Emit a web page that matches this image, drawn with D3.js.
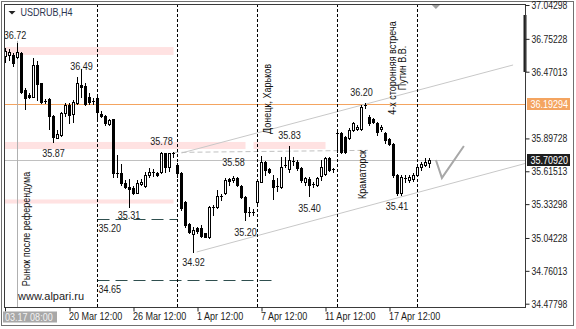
<!DOCTYPE html>
<html>
<head>
<meta charset="utf-8">
<script src="https://cdn.jsdelivr.net/npm/d3@7"></script>
<style>
  body { margin: 0; background: #fff; }
  svg { display: block; font-family: "Liberation Sans", Arial, sans-serif; }
</style>
</head>
<body>
<svg id="chart" width="576" height="329"></svg>
<script>
// USDRUB H4 bars
const opens = [36.601,36.614,36.614,36.597,36.631,36.309,36.266,36.257,36.528,36.373,36.219,36.232,36.090,35.903,35.927,36.118,36.184,36.107,36.204,36.356,36.347,36.250,36.221,36.242,36.107,36.090,36.021,36.062,35.598,35.603,35.517,35.483,35.469,35.431,35.506,35.491,35.583,35.600,35.603,35.611,35.770,35.654,35.770,35.669,35.603,35.354,35.162,35.077,35.125,35.125,35.083,35.048,35.311,35.311,35.403,35.426,35.547,35.540,35.555,35.489,35.392,35.268,35.268,35.354,35.526,35.697,35.632,35.540,35.489,35.483,35.660,35.632,35.703,35.697,35.641,35.526,35.549,35.506,35.497,35.575,35.592,35.727,35.632,35.935,35.941,35.907,35.898,35.970,35.976,35.976,36.184,36.084,36.062,36.032,35.976,35.941,35.890,35.849,35.583,35.426,35.558,35.540,35.547,35.583,35.652,35.669,35.684];
const highs = [36.674,36.665,36.631,36.720,36.639,36.330,36.287,36.588,36.562,36.377,36.236,36.244,36.098,35.970,36.127,36.204,36.199,36.227,36.427,36.490,36.371,36.290,36.242,36.250,36.135,36.098,36.062,36.064,35.755,35.678,35.540,35.547,35.489,35.540,35.547,35.611,35.643,35.632,35.611,35.783,35.775,35.775,35.781,35.684,35.611,35.363,35.174,35.134,35.139,35.154,35.088,35.317,35.326,35.454,35.420,35.555,35.560,35.575,35.569,35.497,35.403,35.311,35.289,35.540,35.746,35.703,35.641,35.583,35.555,35.740,35.740,35.830,35.735,35.712,35.649,35.569,35.569,35.526,35.569,35.712,35.740,35.735,35.641,35.970,35.955,35.918,35.984,36.041,36.013,36.184,36.200,36.098,36.070,36.041,36.013,35.955,35.898,35.855,35.592,35.583,35.583,35.583,35.598,35.669,35.697,35.727,35.727];
const lows = [36.554,36.571,36.519,36.588,36.287,36.154,36.244,36.253,36.227,36.201,36.201,35.978,35.869,35.898,35.918,36.090,36.027,36.041,36.193,36.256,36.184,36.193,36.193,36.055,36.079,36.013,36.013,35.569,35.569,35.497,35.469,35.310,35.420,35.426,35.497,35.483,35.569,35.575,35.575,35.603,35.611,35.620,35.740,35.566,35.283,35.139,35.088,34.920,35.088,35.053,35.048,35.040,35.240,35.297,35.369,35.420,35.497,35.526,35.489,35.383,35.197,35.231,35.240,35.340,35.521,35.583,35.600,35.377,35.448,35.469,35.652,35.611,35.669,35.626,35.526,35.497,35.400,35.483,35.489,35.540,35.583,35.620,35.611,35.781,35.775,35.775,35.890,35.964,35.970,35.970,36.156,36.013,36.027,35.927,35.964,35.855,35.841,35.569,35.411,35.410,35.526,35.526,35.534,35.575,35.626,35.660,35.654];
const closes = [36.648,36.639,36.545,36.639,36.300,36.242,36.257,36.528,36.365,36.214,36.210,36.090,35.912,35.933,36.113,36.184,36.098,36.213,36.376,36.341,36.193,36.213,36.210,36.127,36.090,36.027,36.055,35.598,35.592,35.512,35.483,35.460,35.431,35.512,35.526,35.583,35.605,35.609,35.581,35.775,35.654,35.770,35.764,35.603,35.297,35.154,35.096,35.111,35.105,35.060,35.053,35.306,35.306,35.403,35.392,35.540,35.534,35.555,35.497,35.392,35.268,35.260,35.260,35.534,35.697,35.626,35.611,35.478,35.478,35.654,35.669,35.712,35.695,35.641,35.540,35.555,35.497,35.497,35.555,35.652,35.727,35.626,35.623,35.944,35.783,35.783,35.970,36.027,35.998,36.170,36.176,36.027,36.041,35.955,35.998,35.884,35.849,35.583,35.426,35.569,35.549,35.564,35.583,35.649,35.680,35.697,35.709];

const firstBarLabel = '03.17 08:00';
const timeTickBars = [16, 32, 48, 64, 80, 96];
const timeTickLabels = ['20 Mar 12:00', '26 Mar 12:00', '1 Apr 12:00', '7 Apr 12:00', '11 Apr 12:00', '17 Apr 12:00'];
const priceTicks = [37.04298, 36.75228, 36.47013, 35.89728, 35.61513, 35.33298, 35.04228, 34.76013, 34.47798];
const levelPrice = 36.19294;
const lastPrice = 35.70920;

const eventBars = [23, 43, 63, 83, 103];
const zones = [
  { from: -1, to: 42, top: 36.682, bottom: 36.614 },
  { from: -1, to: 60, top: 35.867, bottom: 35.806 },
  { from: 62, to: 80, top: 35.867, bottom: 35.806 },
  { from: -1, to: 42, top: 35.373, bottom: 35.338 }
];
const supportLines = [
  { from: 23, to: 43, price: 35.2027 },
  { from: 23, to: 68, price: 34.681 }
];
const trendUpper = [{ i: 44, p: 35.772 }, { i: 126.9, p: 36.528 }];
const trendLower = [{ i: 47.8, p: 34.922 }, { i: 131, p: 35.692 }];
const dashedLevel = [{ i: 42, p: 35.777 }, { i: 90.6, p: 35.795 }];
const checkMark = [{ i: 107.6, p: 35.712 }, { i: 109.1, p: 35.558 }, { i: 114.6, p: 35.832 }];

const priceNotes = [
  { t: '36.72', i: 2.4, p: 36.747 },
  { t: '36.49', i: 19, p: 36.485 },
  { t: '35.87', i: 12, p: 35.740 },
  { t: '35.78', i: 39, p: 35.845 },
  { t: '35.58', i: 57, p: 35.660 },
  { t: '35.83', i: 71, p: 35.892 },
  { t: '35.40', i: 76, p: 35.268 },
  { t: '35.20', i: 60, p: 35.059 },
  { t: '34.92', i: 47, p: 34.802 },
  { t: '35.31', i: 30.9, p: 35.202 },
  { t: '36.20', i: 89, p: 36.264 },
  { t: '35.41', i: 97.9, p: 35.283 }
];
const levelNotes = [
  { t: '35.20', i: 23.25, p: 35.096 },
  { t: '34.65', i: 23.25, p: 34.570 }
];
const eventNotes = [
  { lines: ['Рынок после референдума'], i: 6.1, p: 35.119 },
  { lines: ['Донецк, Харьков'], i: 66.4, p: 36.236 },
  { lines: ['Краматорск'], i: 90.1, p: 35.587 },
  { lines: ['4-х сторонняя встреча', 'Путин В.В.'], i: 97.6, p: 36.502 }
];

const svg = d3.select('#chart');
const pL = 4, pR = 525.5, pT = 4, pB = 307.5;

const x = d3.scaleLinear().domain([-0.375, 130]).range([pL, pR]);
const y = d3.scaleLinear().domain([34.4453, 37.0516]).range([pB, pT]);

svg.append('defs').append('clipPath').attr('id', 'plot')
  .append('rect').attr('x', pL + 0.5).attr('y', pT + 0.5)
  .attr('width', pR - pL - 1).attr('height', pB - pT - 1);

const plot = svg.append('g').attr('clip-path', 'url(#plot)');

// pink zones
plot.selectAll('rect.zone').data(zones).join('rect')
  .attr('x', d => x(d.from)).attr('width', d => x(d.to) - x(d.from))
  .attr('y', d => y(d.top)).attr('height', d => y(d.bottom) - y(d.top))
  .attr('fill', '#ffe2e2');

// horizontal levels
plot.append('line').attr('x1', pL).attr('x2', pR)
  .attr('y1', Math.round(y(levelPrice)) + 0.5).attr('y2', Math.round(y(levelPrice)) + 0.5)
  .attr('stroke', '#f4a460');
plot.append('line').attr('x1', pL).attr('x2', pR)
  .attr('y1', Math.round(y(lastPrice)) + 0.5).attr('y2', Math.round(y(lastPrice)) + 0.5)
  .attr('stroke', '#c0c0c0');

const line = d3.line().x(d => x(d.i)).y(d => y(d.p));
plot.append('path').attr('d', line(trendUpper)).attr('fill', 'none').attr('stroke', '#c8c8c8');
plot.append('path').attr('d', line(trendLower)).attr('fill', 'none').attr('stroke', '#c8c8c8');
plot.append('path').attr('d', line(dashedLevel)).attr('fill', 'none')
  .attr('stroke', '#c0c0c0').attr('stroke-dasharray', '5,3');

plot.selectAll('line.support').data(supportLines).join('line')
  .attr('x1', d => x(d.from)).attr('x2', d => x(d.to))
  .attr('y1', d => Math.round(y(d.price)) + 0.5).attr('y2', d => Math.round(y(d.price)) + 0.5)
  .attr('stroke', '#2f4f4f').attr('stroke-dasharray', '12,6');

// event lines
plot.append('line').attr('x1', x(3)).attr('x2', x(3))
  .attr('y1', y(36.735)).attr('y2', pB).attr('stroke', '#b0b0b0');
plot.selectAll('line.event').data(eventBars).join('line')
  .attr('x1', d => x(d)).attr('x2', d => x(d))
  .attr('y1', pT).attr('y2', pB)
  .attr('stroke', '#000').attr('stroke-dasharray', '3,2');

// candles
const bars = d3.range(opens.length).map(i => ({ i, o: opens[i], h: highs[i], l: lows[i], c: closes[i] }));
const cg = plot.append('g');
cg.selectAll('line.wick').data(bars).join('line')
  .attr('x1', d => x(d.i)).attr('x2', d => x(d.i))
  .attr('y1', d => Math.round(y(d.h))).attr('y2', d => Math.round(y(d.l)) + 1)
  .attr('stroke', '#000');
bars.forEach(d => {
  const cx = x(d.i);
  const t = Math.round(y(Math.max(d.o, d.c)));
  const b = Math.round(y(Math.min(d.o, d.c)));
  if (b - t <= 1) {
    cg.append('line').attr('x1', cx - 1.5).attr('x2', cx + 1.5)
      .attr('y1', t + 0.5).attr('y2', t + 0.5).attr('stroke', '#000');
  } else if (d.c < d.o) {
    cg.append('rect').attr('x', cx - 1.5).attr('y', t).attr('width', 3).attr('height', b - t + 1)
      .attr('fill', '#000');
  } else {
    cg.append('rect').attr('x', cx - 1).attr('y', t + 0.5).attr('width', 2).attr('height', b - t)
      .attr('fill', '#fff').attr('stroke', '#000');
  }
});

// check mark
plot.append('path').attr('d', line(checkMark)).attr('fill', 'none')
  .attr('stroke', '#a8a8a8').attr('stroke-width', 2);

// price notes
plot.selectAll('text.note').data(priceNotes).join('text')
  .attr('class', 'narrow')
  .attr('x', d => x(d.i)).attr('y', d => y(d.p))
  .attr('text-anchor', 'middle').attr('font-size', 11).attr('fill', '#1c1c1c')
  .text(d => d.t);
plot.selectAll('text.lvl').data(levelNotes).join('text')
  .attr('class', 'narrow')
  .attr('x', d => x(d.i)).attr('y', d => y(d.p))
  .attr('font-size', 11).attr('fill', '#1c1c1c')
  .text(d => d.t);

const ev = plot.selectAll('g.ev').data(eventNotes).join('g')
  .attr('transform', d => `translate(${x(d.i)},${y(d.p)}) rotate(-90)`);
ev.each(function (d) {
  d3.select(this).selectAll('text').data(d.lines).join('text')
    .attr('class', 'narrow')
    .attr('y', (s, k) => k * 10)
    .attr('text-anchor', 'middle').attr('font-size', 11).attr('fill', '#111')
    .text(s => s);
});

plot.append('text').attr('x', 18).attr('y', 300)
  .attr('font-size', 11).attr('fill', '#222').text('www.alpari.ru');

// symbol header
svg.append('path').attr('d', 'M8.5,11 L15.5,11 L12,14.5 Z').attr('fill', '#222');
svg.append('text').attr('class', 'narrow').attr('x', 20.5).attr('y', 16)
  .attr('font-size', 11).attr('fill', '#2a3550').text('USDRUB,H4');

// chart shift marker and scroll bar
const sx = x(107.6);
svg.append('path').attr('d', `M${sx - 4},5 L${sx + 4},5 L${sx},9 Z`).attr('fill', '#a0a0a0');
svg.append('rect').attr('x', 523.5).attr('y', 15).attr('width', 3).attr('height', 57).attr('fill', '#222');

// frames
svg.append('rect').attr('x', 1.5).attr('y', 1.5).attr('width', 572).attr('height', 324)
  .attr('fill', 'none').attr('stroke', '#707070');
svg.append('rect').attr('x', pL + 0.5).attr('y', pT + 0.5).attr('width', pR - pL - 0.5).attr('height', pB - pT - 0.5)
  .attr('fill', 'none').attr('stroke', '#3a3a3a');

// right price axis
const yAxis = svg.append('g').attr('transform', `translate(${pR},0)`)
  .call(d3.axisRight(y).tickValues(priceTicks).tickSize(4).tickPadding(2).tickFormat(d3.format('.5f')));
yAxis.select('.domain').remove();
yAxis.attr('font-family', null);
yAxis.selectAll('line').attr('stroke', '#222');
yAxis.selectAll('text').attr('class', 'narrow').attr('font-size', 10.5).attr('fill', '#1c1c1c');

[{ p: levelPrice, bg: '#f4a460' }, { p: lastPrice, bg: '#1e1e1e' }].forEach(m => {
  const yy = Math.round(y(m.p));
  svg.append('rect').attr('x', 527).attr('y', yy - 6).attr('width', 43).attr('height', 12).attr('fill', m.bg);
  svg.append('text').attr('class', 'narrow').attr('x', 530.5).attr('y', yy + 4)
    .attr('font-size', 11).attr('fill', '#fff')
    .text(d3.format('.5f')(m.p));
});

// bottom time axis
const xAxis = svg.append('g').attr('transform', `translate(0,${pB})`)
  .call(d3.axisBottom(x).tickValues(timeTickBars).tickSize(4).tickFormat((d, k) => timeTickLabels[k]));
xAxis.select('.domain').remove();
xAxis.attr('font-family', null);
xAxis.selectAll('line').attr('stroke', '#222');
xAxis.selectAll('text').attr('class', 'narrow').attr('text-anchor', 'start').attr('dx', -1)
  .attr('y', 5).attr('dy', '0.71em').attr('font-size', 11).attr('fill', '#1c1c1c');

svg.append('line').attr('x1', x(0)).attr('x2', x(0)).attr('y1', pB).attr('y2', pB + 4).attr('stroke', '#222');
svg.append('rect').attr('x', 3).attr('y', 311.5).attr('width', 54).attr('height', 11).attr('fill', '#a8a8a8');
svg.append('text').attr('class', 'narrow').attr('x', 5).attr('y', 320.5)
  .attr('font-size', 11).attr('fill', '#f2f2f2').text(firstBarLabel);

// the terminal font is narrower than Liberation Sans: squeeze glyphs horizontally
svg.selectAll('text.narrow').each(function () {
  const w = this.getComputedTextLength();
  d3.select(this).attr('textLength', (w * 0.82).toFixed(1)).attr('lengthAdjust', 'spacingAndGlyphs');
});
</script>
</body>
</html>
